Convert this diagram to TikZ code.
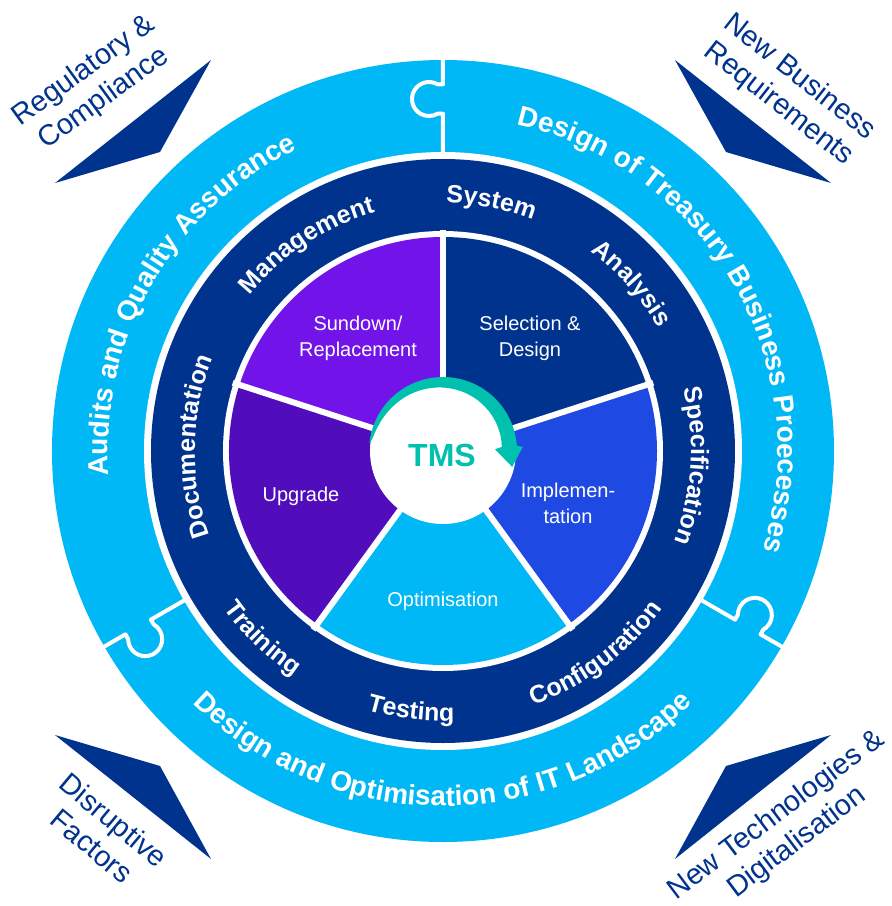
\documentclass[tikz,border=0pt]{standalone}
\usepackage{fontspec}
\setmainfont{Liberation Sans}
\newfontfamily\ringfont[LetterSpace=6]{Liberation Sans}
\newfontfamily\outerfont[LetterSpace=3]{Liberation Sans}
\usetikzlibrary{decorations.text}
\definecolor{cLight}{HTML}{00B8F5}
\definecolor{cNavy}{HTML}{00338D}
\definecolor{cViolet}{HTML}{7213EA}
\definecolor{cDPurple}{HTML}{510DBC}
\definecolor{cCobalt}{HTML}{1E49E2}
\definecolor{cTeal}{HTML}{00C0AE}
\newcommand\navyringfont{\ringfont\bfseries\fontsize{25}{25}\selectfont}
\newcommand\outerringfont{\outerfont\bfseries\fontsize{28}{28}\selectfont}
\tikzset{
  sep/.style={white, line width=6pt},
  puzzle/.style={white, line width=4pt, line join=round},
  pietext/.style={white, font=\fontsize{20}{26}\selectfont, align=center},
  cornertxt/.style={cNavy, font=\fontsize{29}{34}\selectfont, align=center},
  corner/.style={fill=cNavy},
}
\begin{document}
\begin{tikzpicture}[x=1pt,y=1pt]
\useasboundingbox (-443,-455) rectangle (449,451);
\fill[white] (-443,-455) rectangle (449,451);
% rings
\fill[cLight] (0,0) circle[radius=391pt];
\fill[white] (0,0) circle[radius=299pt];
\fill[cNavy] (0,0) circle[radius=292pt];
\fill[white] (0,0) circle[radius=220pt];
% puzzle boundaries
\foreach \b in {90,210,330}{
  \begin{scope}[rotate=\b-90]
    \draw[puzzle] (0,395) -- (0,366.7) -- (-5.5,366.7)
      arc[start angle=60, end angle=300, radius=17pt] -- (0,337.3) -- (0,296);
  \end{scope}
}
% pie sectors
\fill[cNavy] (0,0) -- (90:214pt) arc[start angle=90, end angle=18, radius=214pt] -- cycle;
\fill[cCobalt] (0,0) -- (18:214pt) arc[start angle=18, end angle=-54, radius=214pt] -- cycle;
\fill[cLight] (0,0) -- (-54:214pt) arc[start angle=-54, end angle=-126, radius=214pt] -- cycle;
\fill[cDPurple] (0,0) -- (-126:214pt) arc[start angle=-126, end angle=-198, radius=214pt] -- cycle;
\fill[cViolet] (0,0) -- (162:214pt) arc[start angle=162, end angle=90, radius=214pt] -- cycle;
\foreach \a in {90,18,-54,-126,162}{
  \draw[sep] (0,0) -- (\a:221pt);
}
\fill[white] (0,0) circle[radius=73pt];
% teal arrow
\fill[cTeal] plot[variable=\t, domain=174:4, samples=60] ({74*cos(\t)},{74*sin(\t)})
  -- (3:80pt) -- (-13:71pt) -- (2:52pt)
  -- plot[variable=\t, domain=4:174, samples=60] ({(74-15*sqrt(abs((174-\t)/170)))*cos(\t)},{(74-15*sqrt(abs((174-\t)/170)))*sin(\t)})
  -- cycle;
\node[cTeal, font=\bfseries\fontsize{32}{32}\selectfont] (tms) at (-1,-4) {TMS};
% pie labels
\node[pietext] (sel) at (87,113) {Selection \&\\Design};
\node[pietext] (sun) at (-85,113) {Sundown/\\Replacement};
\node[pietext] (upg) at (-142,-45) {Upgrade};
\node[pietext] (imp) at (125,-52) {Implemen-\\tation};
\node[pietext] (opt) at (0,-150) {Optimisation};
% navy ring labels
\path[decorate, decoration={text along path, text align=center, text color=white, text={|\navyringfont|System}}]
  (124:248pt) arc[start angle=124, end angle=34, radius=248pt];
\path[decorate, decoration={text along path, text align=center, text color=white, text={|\navyringfont|Analysis}}]
  (86.6:248pt) arc[start angle=86.6, end angle=-3.4, radius=248pt];
\path[decorate, decoration={text along path, text align=center, text color=white, text={|\navyringfont|Specification}}]
  (41.5:248pt) arc[start angle=41.5, end angle=-48.5, radius=248pt];
\path[decorate, decoration={text along path, text align=center, text color=white, text={|\navyringfont|Documentation}}]
  (224:248pt) arc[start angle=224, end angle=134, radius=248pt];
\path[decorate, decoration={text along path, text align=center, text color=white, text={|\navyringfont|Management}}]
  (168.5:248pt) arc[start angle=168.5, end angle=78.5, radius=248pt];
\path[decorate, decoration={text along path, text align=center, text color=white, text={|\navyringfont|Configuration}}]
  (-98:270pt) arc[start angle=-98, end angle=-8, radius=270pt];
\path[decorate, decoration={text along path, text align=center, text color=white, text={|\navyringfont|Testing}}]
  (-142:270pt) arc[start angle=-142, end angle=-52, radius=270pt];
\path[decorate, decoration={text along path, text align=center, text color=white, text={|\navyringfont|Training}}]
  (181:270pt) arc[start angle=181, end angle=271, radius=270pt];
% outer ring labels
\path[decorate, decoration={text along path, text align=center, text color=white, text={|\outerringfont|Design of Treasury Business Proecesses}}]
  (90:335pt) arc[start angle=90, end angle=-30, radius=335pt];
\path[decorate, decoration={text along path, text align=center, text color=white, text={|\outerringfont|Audits and Quality Assurance}}]
  (210:335pt) arc[start angle=210, end angle=90, radius=335pt];
\path[decorate, decoration={text along path, text align=center, text color=white, text={|\outerringfont|Design and Optimisation of IT Landscape}}]
  (210:355pt) arc[start angle=210, end angle=330, radius=355pt];
% corner arrows
\fill[corner] (-388,268) -- (-283,299) -- (-232,391) -- cycle;
\fill[corner] (388,268) -- (283,299) -- (232,391) -- cycle;
\fill[corner] (-388,-284) -- (-283,-315) -- (-232,-408) -- cycle;
\fill[corner] (388,-284) -- (283,-315) -- (232,-408) -- cycle;
% corner labels
\node[cornertxt, rotate=36] (tl) at (-349,366) {Regulatory \&\\Compliance};
\node[cornertxt, rotate=-38] (tr) at (346,360) {New Business\\Requirements};
\node[cornertxt, rotate=-40] (bl) at (-340,-382) {Disruptive\\Factors};
\node[cornertxt, rotate=37] (br) at (344,-378) {New Technologies \&\\Digitalisation};
\end{tikzpicture}
\end{document}
